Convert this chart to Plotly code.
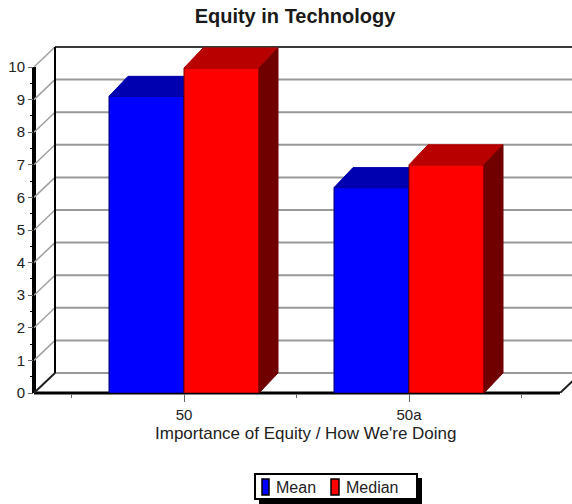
import plotly.graph_objects as go

categories = ["50", "50a"]
mean_values = [9.1, 6.3]
median_values = [9.97, 7.0]
y_ticks = list(range(0, 11))

W, H = 572, 504
LEFT, BASE, TOP = 34, 393, 40
X_PX, Y_PX = 225.0, 32.6   # pixels per category / per unit
C0_PX = 184
FONT = "Liberation Sans"
TXT = "#222222"
DX, DY = 21 / X_PX, 20 / Y_PX      # depth of the box
BDX = 19 / X_PX                     # depth of a bar
BW = 75 / X_PX                      # width of a bar
xmin = (LEFT - C0_PX) / X_PX
xmax = (W - C0_PX) / X_PX
xfront = (560 - C0_PX) / X_PX
ymax = (BASE - TOP) / Y_PX
xs = list(range(len(categories)))


def px(x):
    return (x - LEFT) / (W - LEFT)


def py(y):
    return (BASE - y) / (BASE - TOP)


shapes = []


def line(x0, y0, x1, y1, color, width):
    shapes.append(dict(type="line", xref="x", yref="y", x0=x0, y0=y0, x1=x1, y1=y1,
                       line=dict(color=color, width=width), layer="below"))


for k in y_ticks[1:]:
    line(xmin, k, xmin + DX, k + DY, "#a0a0a0", 1.5)
    line(xmin + DX, k + DY, xmax + 1, k + DY, "#3a3a3a" if k == 10 else "#999999", 2)
line(xmin + DX, DY, xmax + 1, DY, "#999999", 2)
line(xmin + DX, DY, xmin + DX, 10 + DY, "#000000", 2)
line(xmin, 0, xmin + DX, DY, "#222222", 2)
line(xfront, 0, xfront + DX, DY, "#222222", 2)

# front floor edge and front vertical axis: paper-referenced on one side so they are not clipped
shapes += [
    dict(type="line", xref="x", yref="paper", x0=xmin, x1=xfront, y0=0, y1=0,
         line=dict(color="#000000", width=3), layer="below"),
    dict(type="line", xref="paper", yref="y", x0=0, x1=0, y0=0, y1=10,
         line=dict(color="#000000", width=4), layer="below"),
]

# legend box
shapes += [
    dict(type="rect", xref="paper", yref="paper", x0=px(259), x1=px(422), y0=py(478), y1=py(505),
         fillcolor="#000000", line=dict(width=0), layer="above"),
    dict(type="rect", xref="paper", yref="paper", x0=px(255), x1=px(417), y0=py(474), y1=py(499),
         fillcolor="#ffffff", line=dict(color="#000000", width=2), layer="above"),
    dict(type="rect", xref="paper", yref="paper", x0=px(262), x1=px(269), y0=py(479), y1=py(495),
         fillcolor="#0000ff", line=dict(color="#000000", width=1.5), layer="above"),
    dict(type="rect", xref="paper", yref="paper", x0=px(331), x1=px(339), y0=py(479), y1=py(495),
         fillcolor="#ff0000", line=dict(color="#000000", width=1.5), layer="above"),
]


def box_faces(left, vals, top_color, side_color, name):
    """Top and right faces of the bars, derived from the values."""
    out = []
    for x, v in zip(xs, vals):
        l, r = x + left, x + left + BW
        out.append(go.Scatter(
            x=[l, r, r + BDX, l + BDX, l], y=[v, v, v + DY, v + DY, v],
            mode="lines", fill="toself", fillcolor=top_color,
            line=dict(color=top_color, width=1), hoverinfo="skip", showlegend=False, name=name))
        out.append(go.Scatter(
            x=[r, r + BDX, r + BDX, r, r], y=[0, DY, v + DY, v, 0],
            mode="lines", fill="toself", fillcolor=side_color,
            line=dict(color=side_color, width=1), hoverinfo="skip", showlegend=False, name=name))
    return out


fig = go.Figure()

# lower layer: Mean
fig.add_trace(go.Bar(x=xs, y=mean_values, width=BW, offset=-BW, name="Mean",
                     marker=dict(color="#0000ff", line=dict(color="#00006a", width=1)),
                     xaxis="x", yaxis="y"))
for t in box_faces(-BW, mean_values, "#0000b0", "#000070", "Mean"):
    fig.add_trace(t)

# upper layer: Median
fig.add_trace(go.Bar(x=xs, y=median_values, width=BW, offset=0, name="Median",
                     marker=dict(color="#ff0000", line=dict(color="#700000", width=1)),
                     xaxis="x2", yaxis="y2"))
for t in box_faces(0, median_values, "#b80000", "#700000", "Median"):
    t.update(xaxis="x2", yaxis="y2")
    fig.add_trace(t)

fig.update_layout(
    width=W, height=H, autosize=False,
    margin=dict(l=LEFT, r=0, t=TOP, b=H - BASE, pad=0),
    paper_bgcolor="#ffffff", plot_bgcolor="#ffffff",
    showlegend=False, shapes=shapes,
    font=dict(family=FONT, size=15, color=TXT),
    title=dict(text="<b>Equity in Technology</b>", x=295 / W, xref="container", xanchor="center",
               y=1 - 16 / H, yref="container", yanchor="middle",
               font=dict(family=FONT, size=20, color="#1a1a1a")),
    xaxis=dict(range=[xmin, xmax], tickvals=xs, ticktext=categories, ticks="outside", ticklen=8,
               tickcolor="#666666", tickwidth=1, showgrid=False, zeroline=False, showline=False,
               tickfont=dict(size=15, color=TXT),
               minor=dict(tickvals=[-0.5, 0.5, 1.5], ticks="outside", ticklen=4,
                          tickcolor="#666666", showgrid=False)),
    yaxis=dict(range=[0, ymax], tickvals=y_ticks, ticks="outside", ticklen=5, tickcolor="#666666",
               tickwidth=1, showgrid=False, zeroline=False, showline=False,
               tickfont=dict(size=15, color=TXT),
               minor=dict(tickvals=[k + 0.5 for k in y_ticks[:-1]], ticks="outside", ticklen=3,
                          tickcolor="#000000", showgrid=False)),
    xaxis2=dict(range=[xmin, xmax], overlaying="x", visible=False),
    yaxis2=dict(range=[0, ymax], overlaying="y", visible=False),
    annotations=[
        dict(text="Importance of Equity / How We're Doing", xref="paper", yref="paper",
             x=px(305.5), y=py(433), xanchor="center", yanchor="middle", showarrow=False,
             font=dict(size=17, color=TXT)),
        dict(text="Mean", xref="paper", yref="paper", x=px(274), y=py(487), xanchor="left",
             yanchor="middle", showarrow=False, font=dict(size=16, color=TXT)),
        dict(text="Median", xref="paper", yref="paper", x=px(344), y=py(487), xanchor="left",
             yanchor="middle", showarrow=False, font=dict(size=16, color=TXT)),
    ],
)

fig.write_html("out.html", config=dict(displayModeBar=False),
               post_script="document.body.style.margin='0';document.body.style.overflow='hidden';")
